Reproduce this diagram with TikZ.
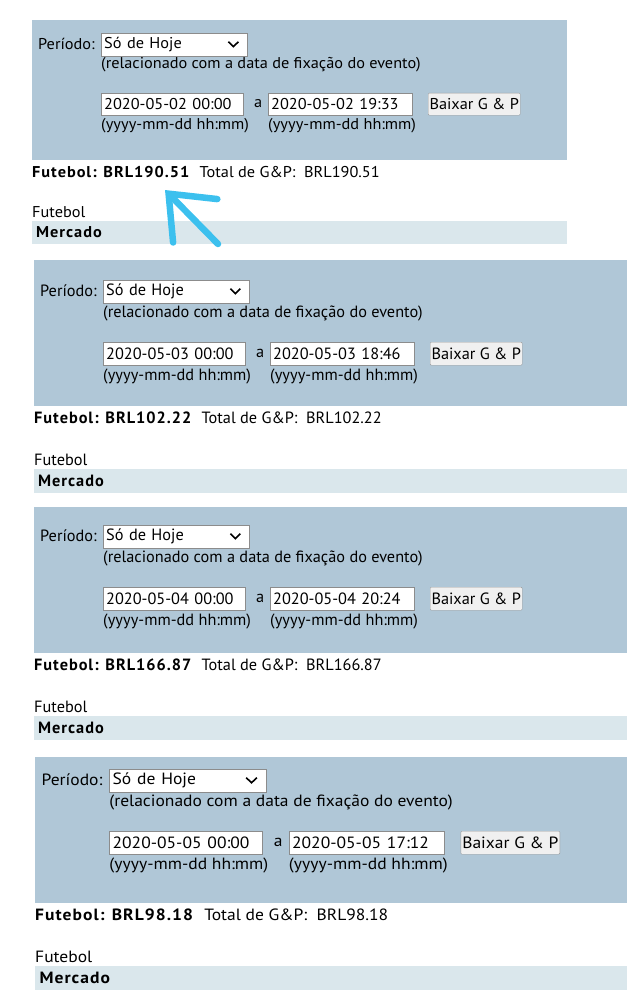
\documentclass[tikz,border=0pt]{standalone}
\usepackage{fontspec}
\setmainfont{PT Sans}
\usetikzlibrary{arrows.meta,positioning}

\definecolor{panelblue}{HTML}{B0C7D7}
\definecolor{stripblue}{HTML}{DAE7EC}
\definecolor{arrowcyan}{HTML}{3CC0EE}

\tikzset{
  txt/.style={anchor=west, inner sep=0pt, font=\fontsize{16.3}{16.3}\selectfont},
  boldtxt/.style={txt, font=\fontsize{16.3}{16.3}\selectfont\bfseries\addfontfeatures{LetterSpace=6}},
  field/.style={draw=black!45, fill=white, text width=#1, inner xsep=3pt, inner ysep=0pt,
    minimum height=23pt, anchor=north west, font=\fontsize{16.3}{16.3}\selectfont},
  btn/.style={draw=black!40, fill=black!6, rounded corners=1pt, minimum width=#1,
    minimum height=23pt, inner xsep=1pt, inner ysep=0pt, anchor=north west,
    font=\fontsize{16.3}{16.3}\selectfont},
  pointer/.style={arrowcyan, line width=6.5pt, line cap=round,
    -{Straight Barb[length=38pt, width=62pt, line cap=round]}}
}

\begin{document}
\begin{tikzpicture}[x=1pt, y=-1pt]
  \useasboundingbox (0,0) rectangle (637,1004);

  \foreach \i/\px/\py/\sx/\sy/\w/\fy/\day/\hr/\tot in {
      1/32/20/1/0.96/535/-4/02/19:33/190.51,
      2/34/260/1/1/593/2/03/18:46/102.22,
      3/34/507/1/1/593/0/04/20:24/166.87,
      4/35/757/1.075/1/551/-6/05/17:12/98.18}{
  \begin{scope}[shift={(\px,\py)}, xscale=\sx, yscale=\sy, transform shape]
    \fill[panelblue] (0,0) rectangle (\w,146);

    \node (per\i) at (6,29+\fy) [txt]{Período:};
    \node (sel\i) at (69,18+\fy) [field=140pt]{Só de Hoje};
    \draw[line width=1.6pt] ([xshift=-19pt,yshift=3pt]sel\i.east) -- ++(5,5) -- ++(5,-5);
    \node (rel\i) at (69,51+\fy) [txt]{(relacionado com a data de fixação do evento)};

    \node (from\i) at (69,80+\fy) [field=136pt]{2020-05-\day\ 00:00};
    \node (a\i) at (222,91.5+\fy) [txt]{a};
    \node (to\i) at (236,80+\fy) [field=138pt]{2020-05-\day\ \hr};
    \node (get\i) at (396,80+\fy) [btn=92pt]{Baixar G \& P};
    \node (fmta\i) at (69,114+\fy) [txt]{(yyyy-mm-dd hh:mm)};
    \node (fmtb\i) at (236,114+\fy) [txt]{(yyyy-mm-dd hh:mm)};

    \node (fut\i) at (0,158) [boldtxt]{Futebol: BRL\tot};
    \node (tot\i) [txt, right=10pt of fut\i]{Total de G\&P:\ \ BRL\tot};

    \node (sport\i) at (0,200) [txt]{Futebol};
    \fill[stripblue] (0,209) rectangle (\w,233);
    \node (mkt\i) at (4,221) [boldtxt]{Mercado};
  \end{scope}
  }

  \coordinate (arrtail) at (218,244);
  \coordinate (arrtip) at (165,190);
  \draw[pointer] (arrtail) -- (arrtip);

\end{tikzpicture}
\end{document}
